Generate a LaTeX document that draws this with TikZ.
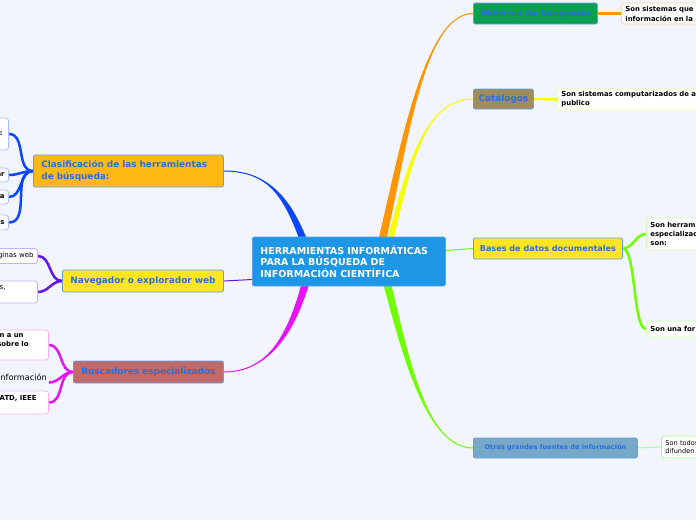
\documentclass[tikz,border=0pt]{standalone}
\usepackage{fontspec}
\setmainfont{DejaVu Sans}
\usepackage{tikz}
\usetikzlibrary{positioning,backgrounds}
\pgfdeclarelayer{paper}
\pgfsetlayers{paper,background,main}

\definecolor{paperbg}{HTML}{F2F5FE}
\definecolor{rootblue}{HTML}{1E96E6}
\definecolor{titleblue}{HTML}{2A6EDC}
\definecolor{rimblue}{HTML}{5AA0F0}
\definecolor{motgreen}{HTML}{0AA050}
\definecolor{catbrown}{HTML}{A08C5A}
\definecolor{bdyellow}{HTML}{FFE61E}
\definecolor{otrsteel}{HTML}{78A8C8}
\definecolor{clasamber}{HTML}{FFB914}
\definecolor{buscrose}{HTML}{C06A6A}
\definecolor{brorange}{HTML}{FF9600}
\definecolor{bryellow}{HTML}{F5FF00}
\definecolor{brlime}{HTML}{70FF00}
\definecolor{brmint}{HTML}{A0FF90}
\definecolor{brblue}{HTML}{0A46FF}
\definecolor{brpurple}{HTML}{6414F0}
\definecolor{brmagenta}{HTML}{E614F5}

\begin{document}
\begin{tikzpicture}[x=1pt, y=-1pt,
  topic/.style={draw=rimblue, fill=#1, rounded corners=2pt, line width=0.8pt, text=titleblue, font=\bfseries\fontsize{8.9}{12}\selectfont, anchor=west, inner sep=0pt},
  leaf/.style={draw=#1, fill=white, rounded corners=3pt, line width=0.8pt, font=\bfseries\fontsize{6.9}{9}\selectfont, inner xsep=4pt, inner ysep=0pt},
  rleaf/.style={leaf=#1, anchor=west, align=left},
  lleaf/.style={leaf=#1, anchor=east, align=right, text width=60pt},
  limb/.style={fill=#1},
  twig/.style={draw=#1, line width=2.5pt},
  thread/.style={draw=#1, line width=1pt}]
\useasboundingbox (0,0) rectangle (696,520);
\begin{pgfonlayer}{paper}
\fill[paperbg] (0,0) rectangle (696,520);
\end{pgfonlayer}

% centre
\node[topic=rootblue, text=white, font=\bfseries\fontsize{9.5}{11.5}\selectfont, align=left, text width=177pt, minimum height=49pt, inner xsep=8pt] (root) at (252,261.5) {HERRAMIENTAS INFORMÁTICAS\\PARA LA BÚSQUEDA DE\\INFORMACIÓN CIENTÍFICA};

% right side
\node[topic=motgreen, minimum width=124pt, minimum height=21pt] (motores) at (473,13.5) {Motores de búsqueda};
\node[topic=catbrown, minimum width=60pt, minimum height=20pt] (catalogos) at (473,99) {Catálogos};
\node[topic=bdyellow, font=\bfseries\fontsize{8.1}{10}\selectfont, minimum width=149pt, minimum height=21pt] (bases) at (473,248.5) {Bases de datos documentales};
\node[topic=otrsteel, font=\bfseries\fontsize{6.6}{8}\selectfont, minimum width=164pt, minimum height=20pt] (otras) at (473,448) {Otras grandes fuentes de información};

\node[rleaf=brorange!40, text width=112pt, minimum height=21pt, font=\bfseries\fontsize{6.9}{10}\selectfont] (motdef) at (621,13.5) {Son sistemas que\\información en la};
\node[rleaf=bryellow!45, text width=170pt, minimum height=21pt] (catdef) at (557,99.5) {Son sistemas computarizados de a\\publico};
\node[rleaf=brlime!35, text width=80pt, minimum height=32pt] (basdefA) at (646,234) {Son herrami\\especializad\\son:};
\node[rleaf=brlime!35, text width=80pt, minimum height=16pt] (basdefB) at (646,329) {Son una for};
\node[rleaf=brmint, text width=80pt, minimum height=22pt, font=\fontsize{6.6}{8.5}\selectfont] (otrdef) at (661,447) {Son todos\\difunden};

% left side
\node[topic=clasamber, align=left, text width=174pt, inner xsep=8pt, minimum height=32pt] (clasif) at (33,171) {Clasificación de las herramientas\\de búsqueda:};
\node[topic=bdyellow, minimum width=161pt, minimum height=22pt] (naveg) at (62,281) {Navegador o explorador web};
\node[topic=buscrose, minimum width=150pt, minimum height=22pt] (busc) at (73,372) {Buscadores especializados};

\node[lleaf=brblue!35, minimum height=32pt] (clasA) at (9,134) {:\rule{2pt}{0pt}};
\node[lleaf=brblue!35, minimum height=14pt] (clasB) at (9,175) {ar};
\node[lleaf=brblue!35, minimum height=14pt] (clasC) at (9,197) {a};
\node[lleaf=brblue!35, minimum height=15pt] (clasD) at (9,222.5) {es};

\node[lleaf=brpurple!35, minimum height=15pt, font=\fontsize{7}{8.5}\selectfont] (navA) at (38,256) {ginas web};
\node[lleaf=brpurple!35, minimum height=22pt, font=\fontsize{7}{8.5}\selectfont] (navB) at (38,292) {s,\rule{28pt}{0pt}\\\mbox{}};

\node[lleaf=brmagenta!35, minimum height=30pt, font=\bfseries\fontsize{6.9}{9.5}\selectfont] (buscA) at (49,345) {n a un\rule{21pt}{0pt}\\sobre lo\rule{16pt}{0pt}\\\mbox{}};
\node[anchor=east, inner xsep=2pt, inner ysep=2pt, font=\fontsize{8.2}{10}\selectfont] (buscB) at (49,377) {nformación};
\node[lleaf=brmagenta!35, minimum height=23pt] (buscC) at (49,402.5) {ATD, IEEE\rule{8pt}{0pt}\\\mbox{}};

\begin{pgfonlayer}{background}
% main branches, tapered
\fill[limb=brorange] ([xshift=24pt]root.center) .. controls +(24,-92) and +(-53,0) .. (motores.west) .. controls +(-53,0) and +(24,-92) .. ([xshift=32pt]root.center) -- cycle;
\draw[thread=brorange] ([xshift=28pt]root.center) .. controls +(24,-92) and +(-53,0) .. (motores.west);
\fill[limb=bryellow] ([xshift=33pt]root.center) .. controls +(21,-82) and +(-53,0) .. (catalogos.west) .. controls +(-53,0) and +(21,-82) .. ([xshift=39pt]root.center) -- cycle;
\draw[thread=bryellow] ([xshift=36pt]root.center) .. controls +(21,-82) and +(-53,0) .. (catalogos.west);
\fill[limb=brlime] ([xshift=28pt]root.center) .. controls +(20,68) and +(-53,0) .. (otras.west) .. controls +(-53,0) and +(20,68) .. ([xshift=36pt]root.center) -- cycle;
\draw[thread=brlime] ([xshift=32pt]root.center) .. controls +(20,68) and +(-53,0) .. (otras.west);
\fill[limb=brblue] ([xshift=-42pt]root.center) .. controls +(-20,-62) and +(47,0) .. (clasif.east) .. controls +(47,0) and +(-20,-62) .. ([xshift=-34pt]root.center) -- cycle;
\draw[thread=brblue] ([xshift=-38pt]root.center) .. controls +(-20,-62) and +(47,0) .. (clasif.east);
\fill[limb=brmagenta] ([xshift=-42pt]root.center) .. controls +(-15,68) and +(47,0) .. (busc.east) .. controls +(47,0) and +(-15,68) .. ([xshift=-34pt]root.center) -- cycle;
\draw[thread=brmagenta] ([xshift=-38pt]root.center) .. controls +(-15,68) and +(47,0) .. (busc.east);
\draw[thread=brlime] ([yshift=11pt]root.east) -- (bases.west);
\draw[thread=brpurple] ([yshift=-18pt]root.west) -- (naveg.east);

% leaf links
\draw[twig=brorange] (motores.east) -- (motdef.west);
\draw[twig=bryellow] (catalogos.east) -- (catdef.west);
\draw[twig=brlime] (bases.east) to[out=0,in=180] (basdefA.west);
\draw[twig=brlime] (bases.east) to[out=0,in=180,looseness=0.4] (basdefB.west);
\draw[thread=brmint] (otras.east) -- (otrdef.west);
\foreach \leafname in {clasA,clasB,clasC,clasD}
  \draw[twig=brblue] (clasif.west) to[out=180,in=0] (\leafname.east);
\foreach \leafname in {navA,navB}
  \draw[twig=brpurple] (naveg.west) to[out=180,in=0] (\leafname.east);
\draw[twig=brmagenta] (busc.west) to[out=180,in=0] (buscA.east);
\draw[twig=brmagenta] (busc.west) to[out=180,in=0] (buscB.south east);
\draw[twig=brmagenta] (busc.west) to[out=180,in=0] (buscC.east);
\end{pgfonlayer}
\end{tikzpicture}
\end{document}
